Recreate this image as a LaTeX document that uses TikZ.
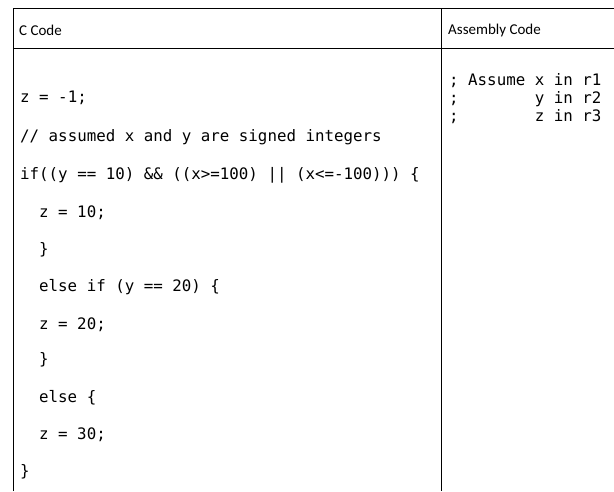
\documentclass[tikz,border=0pt]{standalone}
\usepackage{fontspec}
\setmainfont{Carlito}
\newfontfamily\codefont{DejaVu Sans Mono}
\begin{document}
\begin{tikzpicture}[x=1pt,y=-1pt,
  hdr/.style={anchor=west,inner sep=0pt,font=\fontsize{15}{18}\selectfont},
  code/.style={anchor=west,inner sep=0pt,font=\codefont\fontsize{15.8}{18}\selectfont},
  rule/.style={line width=0.8pt}]
\useasboundingbox (0,0) rectangle (614,491);
\draw[rule] (13,491) -- (13,8) -- (614,8);
\draw[rule] (13,48) -- (614,48);
\draw[rule] (441,8) -- (441,491);
\node[hdr] (h1) at (19,30) {C Code};
\node[hdr] (h2) at (448,30) {Assembly Code};
\node[code] (c1) at (20,98) {z = -1;};
\node[code] (c2) at (20,137) {// assumed x and y are signed integers};
\node[code] (c3) at (20,175) {if((y == 10) \&\& ((x>=100) || (x<=-100))) \{};
\node[code] (c4) at (39,213) {z = 10;};
\node[code] (c5) at (39,250) {\}};
\node[code] (c6) at (39,287) {else if (y == 20) \{};
\node[code] (c7) at (39,325) {z = 20;};
\node[code] (c8) at (39,360) {\}};
\node[code] (c9) at (39,398) {else \{};
\node[code] (c10) at (39,435) {z = 30;};
\node[code] (c11) at (20,472) {\}};
\node[code] (a1) at (449,81) {;~Assume x in r1};
\node[code] (a2) at (449,99) {;~~~~~~~~y in r2};
\node[code] (a3) at (449,117) {;~~~~~~~~z in r3};
\end{tikzpicture}
\end{document}
